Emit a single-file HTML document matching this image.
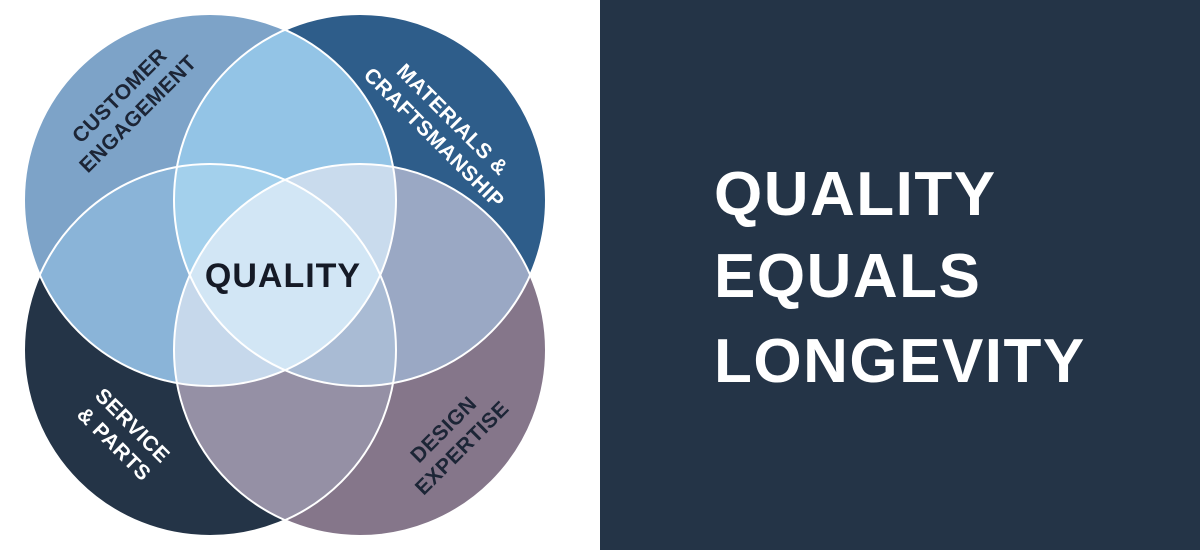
<!DOCTYPE html>
<html><head><style>
html,body{margin:0;padding:0;width:1200px;height:550px;overflow:hidden;background:#fff;}
</style></head><body>
<svg width="1200" height="550" xmlns="http://www.w3.org/2000/svg" style="display:block">
<defs>
<clipPath id="cTL"><circle cx="210" cy="200" r="186"/></clipPath>
<clipPath id="cTR"><circle cx="360" cy="200" r="186"/></clipPath>
<clipPath id="cBL"><circle cx="210" cy="350" r="186"/></clipPath>
<clipPath id="cBR"><circle cx="360" cy="350" r="186"/></clipPath>
</defs>
<rect x="600" y="0" width="600" height="550" fill="#243447"/>
<circle cx="210" cy="200" r="186" fill="#7da3c8"/>
<circle cx="360" cy="200" r="186" fill="#2e5d8a"/>
<circle cx="210" cy="350" r="186" fill="#243447"/>
<circle cx="360" cy="350" r="186" fill="#85768a"/>
<g clip-path="url(#cTL)"><circle cx="360" cy="200" r="186" fill="#93c4e6"/></g>
<g clip-path="url(#cTL)"><circle cx="210" cy="350" r="186" fill="#8ab4d8"/></g>
<g clip-path="url(#cTR)"><circle cx="360" cy="350" r="186" fill="#9aa8c4"/></g>
<g clip-path="url(#cBL)"><circle cx="360" cy="350" r="186" fill="#9590a5"/></g>
<g clip-path="url(#cTL)"><g clip-path="url(#cTR)"><circle cx="210" cy="350" r="186" fill="#a3d0ec"/></g></g>
<g clip-path="url(#cTL)"><g clip-path="url(#cTR)"><circle cx="360" cy="350" r="186" fill="#c9dbed"/></g></g>
<g clip-path="url(#cTL)"><g clip-path="url(#cBL)"><circle cx="360" cy="350" r="186" fill="#c6d8eb"/></g></g>
<g clip-path="url(#cTR)"><g clip-path="url(#cBL)"><circle cx="360" cy="350" r="186" fill="#a9bbd4"/></g></g>
<g clip-path="url(#cTL)"><g clip-path="url(#cTR)"><g clip-path="url(#cBL)"><circle cx="360" cy="350" r="186" fill="#d2e6f5"/></g></g></g>
<g fill="none" stroke="#ffffff" stroke-width="2">
<circle cx="210" cy="200" r="186"/>
<circle cx="360" cy="200" r="186"/>
<circle cx="210" cy="350" r="186"/>
<circle cx="360" cy="350" r="186"/>
</g>
<g font-family="Liberation Sans, sans-serif" font-weight="bold" font-size="21" text-anchor="middle" letter-spacing="0.5">
<g transform="translate(128,104) rotate(-45)" fill="#1c2536">
<text x="0" y="-5">CUSTOMER</text><text x="0" y="21">ENGAGEMENT</text></g>
<g transform="translate(444,128) rotate(45)" fill="#ffffff">
<text x="0" y="-5">MATERIALS &amp;</text><text x="0" y="21">CRAFTSMANSHIP</text></g>
<g transform="translate(124,434) rotate(45)" fill="#ffffff">
<text x="0" y="-5">SERVICE</text><text x="0" y="21">&amp; PARTS</text></g>
<g transform="translate(452,438) rotate(-45)" fill="#1c2536">
<text x="0" y="-5">DESIGN</text><text x="0" y="21">EXPERTISE</text></g>
</g>
<text x="283" y="287" font-family="Liberation Sans, sans-serif" font-size="34" font-weight="bold" fill="#151a26" text-anchor="middle" letter-spacing="1">QUALITY</text>
<g font-family="Liberation Sans, sans-serif" font-weight="bold" font-size="62" fill="#ffffff" letter-spacing="1.5">
<text x="714" y="215">QUALITY</text>
<text x="714" y="297">EQUALS</text>
<text x="714" y="382">LONGEVITY</text>
</g>
</svg>
</body></html>
